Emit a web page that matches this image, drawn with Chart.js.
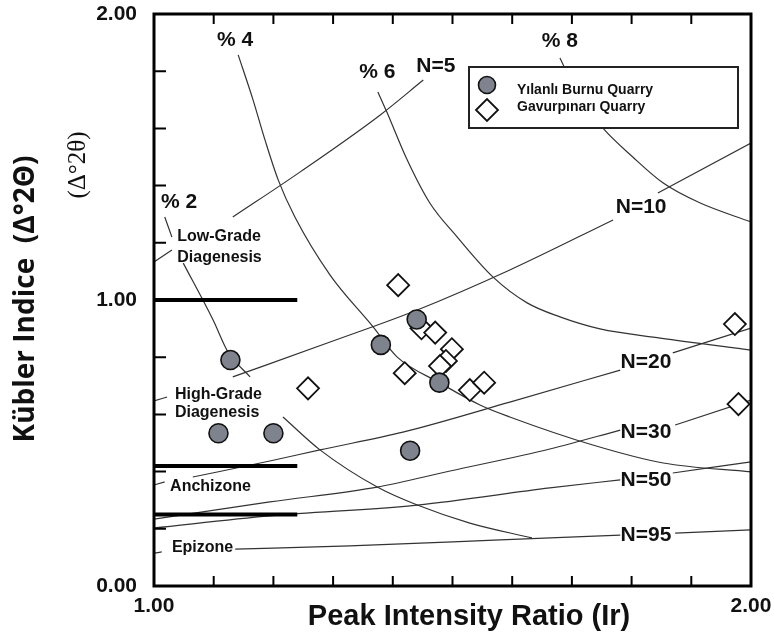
<!DOCTYPE html>
<html>
<head>
<meta charset="utf-8">
<title>Kübler Indice - Peak Intensity Ratio</title>
<script src="https://cdn.jsdelivr.net/npm/chart.js@4.4.1/dist/chart.umd.min.js"></script>
<style>
    html, body { margin: 0; padding: 0; background: #fff; }
</style>
</head>
<body>
<canvas id="kublerChart" width="774" height="638"></canvas>
<script>
// samples
const yilanliIr = [1.128, 1.108, 1.200, 1.380, 1.440, 1.478, 1.429];
const yilanliKi = [0.790, 0.534, 0.534, 0.843, 0.932, 0.711, 0.473];
const gavurIr = [1.258, 1.409, 1.448, 1.471, 1.499, 1.489, 1.479, 1.420, 1.529, 1.553, 1.973, 1.979];
const gavurKi = [0.691, 1.052, 0.901, 0.886, 0.828, 0.787, 0.769, 0.744, 0.685, 0.711, 0.916, 0.636];

// N (layer count) curves, null = break under a label
const n5Ir = [1.000, 1.030, 1.080, 1.132, 1.245, 1.379, 1.451];
const n5Ki = [1.133, 1.175, null, 1.290, 1.448, 1.647, 1.769];
const n10Ir = [1.000, 1.022, 1.080, 1.132, 1.295, 1.441, 1.596, 1.769, 1.800, 1.844, 2.000];
const n10Ki = [0.647, 0.661, null, 0.731, 0.853, 0.965, 1.105, 1.280, null, 1.374, 1.549];
const n20Ir = [1.000, 1.018, 1.040, 1.065, 1.194, 1.278, 1.417, 1.596, 1.781, 1.830, 1.869, 2.000];
const n20Ki = [0.353, 0.364, null, 0.381, 0.437, 0.476, 0.538, 0.643, 0.755, null, 0.815, 0.902];
const n30Ir = [1.000, 1.194, 1.374, 1.496, 1.663, 1.781, 1.830, 1.873, 2.000];
const n30Ki = [0.234, 0.294, 0.346, 0.402, 0.479, 0.545, null, 0.563, 0.650];
const n50Ir = [1.000, 1.194, 1.441, 1.663, 1.781, 1.830, 1.869, 2.000];
const n50Ki = [0.203, 0.245, 0.283, 0.343, 0.371, null, 0.395, 0.434];
const n95Ir = [1.000, 1.013, 1.070, 1.136, 1.328, 1.580, 1.781, 1.830, 1.873, 2.000];
const n95Ki = [0.115, 0.119, null, 0.129, 0.140, 0.161, 0.178, null, 0.185, 0.196];

// % strain curves
const p2Ir = [1.018, 1.030, 1.040, 1.049, 1.099, 1.124, 1.161, 1.190, 1.216, 1.278, 1.374, 1.441, 1.529, 1.633];
const p2Ki = [1.290, 1.220, null, 1.129, 0.930, 0.818, 0.731, null, 0.591, 0.476, 0.346, 0.283, 0.220, 0.168];
const p4Ir = [1.141, 1.166, 1.186, 1.208, 1.236, 1.295, 1.367, 1.407, 1.479, 1.546, 1.596, 1.735, 1.853, 2.000];
const p4Ki = [1.857, 1.699, 1.559, 1.420, 1.290, 1.087, 0.906, 0.801, 0.710, 0.633, 0.591, 0.493, 0.430, 0.399];
const p6Ir = [1.375, 1.390, 1.424, 1.462, 1.508, 1.568, 1.625, 1.680, 1.747, 1.848, 2.000];
const p6Ki = [1.727, 1.657, 1.490, 1.339, 1.220, 1.080, 0.990, 0.941, 0.899, 0.867, 0.825];
const p8Ir = [1.680, 1.710, 1.752, 1.802, 1.853, 1.915, 2.000];
const p8Ki = [1.846, 1.717, 1.601, 1.500, 1.409, 1.339, 1.273];

// zone boundaries
const zoneLimits = [1.00, 0.42, 0.25];
const zoneEndIr = 1.24;

const curveLabels = [
    { text: "% 4", x: 1.136, y: 1.909 },
    { text: "% 6", x: 1.374, y: 1.797 },
    { text: "N=5", x: 1.472, y: 1.818 },
    { text: "% 8", x: 1.680, y: 1.906 },
    { text: "% 2", x: 1.042, y: 1.343 },
    { text: "N=10", x: 1.816, y: 1.325 },
    { text: "N=20", x: 1.824, y: 0.783 },
    { text: "N=30", x: 1.824, y: 0.538 },
    { text: "N=50", x: 1.824, y: 0.371 },
    { text: "N=95", x: 1.824, y: 0.178 },
];
const zoneLabels = [
    { text: "Low-Grade", x: 1.039, y: 1.220 },
    { text: "Diagenesis", x: 1.039, y: 1.150 },
    { text: "High-Grade", x: 1.035, y: 0.671 },
    { text: "Diagenesis", x: 1.035, y: 0.605 },
    { text: "Anchizone", x: 1.027, y: 0.346 },
    { text: "Epizone", x: 1.030, y: 0.133 },
];

const SANS = '"Liberation Sans", Arial, Helvetica, sans-serif';

function toPoints(xs, ys) {
    return xs.map((x, i) => ({ x: x, y: ys[i] }));
}

function curve(xs, ys) {
    return {
        data: toPoints(xs, ys),
        showLine: true,
        borderColor: "#333",
        borderWidth: 1.2,
        pointRadius: 0,
        cubicInterpolationMode: "monotone",
        spanGaps: false,
    };
}

const datasets = [
    {
        label: "Yılanlı Burnu Quarry",
        data: toPoints(yilanliIr, yilanliKi),
        pointStyle: "circle",
        pointRadius: 9.5,
        pointBackgroundColor: "#7e838e",
        pointBorderColor: "#111",
        pointBorderWidth: 1.6,
    },
    {
        label: "Gavurpınarı Quarry",
        data: toPoints(gavurIr, gavurKi),
        pointStyle: "rectRot",
        pointRadius: 11,
        pointBackgroundColor: "#fff",
        pointBorderColor: "#111",
        pointBorderWidth: 1.8,
    },
];

zoneLimits.forEach((ki) => {
    datasets.push({
        data: [{ x: 1.0, y: ki }, { x: zoneEndIr, y: ki }],
        showLine: true,
        borderColor: "#000",
        borderWidth: 4,
        pointRadius: 0,
    });
});

[
    [n5Ir, n5Ki], [n10Ir, n10Ki], [n20Ir, n20Ki], [n30Ir, n30Ki], [n50Ir, n50Ki], [n95Ir, n95Ki],
    [p2Ir, p2Ki], [p4Ir, p4Ki], [p6Ir, p6Ki], [p8Ir, p8Ki],
].forEach((c) => datasets.push(curve(c[0], c[1])));

function wholeLabel(v) {
    return Math.abs(v - Math.round(v)) < 1e-6 ? v.toFixed(2) : "";
}

// frame, inward ticks, text annotations, legend and axis titles
const decorations = {
    id: "decorations",
    afterDraw(chart) {
        const ctx = chart.ctx;
        const area = chart.chartArea;
        const xs = chart.scales.x;
        const ys = chart.scales.y;

        ctx.save();
        ctx.fillStyle = "#111";
        ctx.textBaseline = "middle";

        ctx.font = "bold 21px " + SANS;
        ctx.textAlign = "center";
        curveLabels.forEach((l) => {
            ctx.fillText(l.text, xs.getPixelForValue(l.x), ys.getPixelForValue(l.y));
        });

        ctx.font = "bold 16px " + SANS;
        ctx.textAlign = "left";
        zoneLabels.forEach((l) => {
            ctx.fillText(l.text, xs.getPixelForValue(l.x), ys.getPixelForValue(l.y));
        });

        // ticks
        ctx.strokeStyle = "#000";
        ctx.lineWidth = 2;
        ctx.beginPath();
        ys.ticks.forEach((t) => {
            const py = ys.getPixelForValue(t.value);
            ctx.moveTo(area.left, py);
            ctx.lineTo(area.left + 12, py);
        });
        xs.ticks.forEach((t) => {
            const px = xs.getPixelForValue(t.value);
            ctx.moveTo(px, area.bottom);
            ctx.lineTo(px, area.bottom - 10);
            ctx.moveTo(px, area.top);
            ctx.lineTo(px, area.top + 10);
        });
        ctx.stroke();

        ctx.lineWidth = 3;
        ctx.strokeRect(area.left, area.top, area.right - area.left, area.bottom - area.top);

        // legend
        const lx = area.left + 315;
        const ly = area.top + 53;
        ctx.fillStyle = "#fff";
        ctx.fillRect(lx, ly, 269, 61);
        ctx.lineWidth = 2;
        ctx.strokeStyle = "#222";
        ctx.strokeRect(lx, ly, 269, 61);
        datasets.slice(0, 2).forEach((ds, i) => {
            const cy = ly + 18 + i * 25;
            ctx.fillStyle = ds.pointBackgroundColor;
            ctx.strokeStyle = ds.pointBorderColor;
            ctx.lineWidth = ds.pointBorderWidth;
            Chart.helpers.drawPoint(ctx, { pointStyle: ds.pointStyle, radius: i === 0 ? 8.5 : 11, rotation: 0, borderWidth: ds.pointBorderWidth }, lx + 18, cy);
            ctx.fillStyle = "#111";
            ctx.font = "bold 14px " + SANS;
            ctx.textAlign = "left";
            ctx.fillText(ds.label, lx + 48, ly + 23 + i * 17);
        });

        // axis titles
        ctx.fillStyle = "#111";
        ctx.textAlign = "center";
        ctx.font = "bold 29px " + SANS;
        ctx.textBaseline = "alphabetic";
        ctx.fillText("Peak Intensity Ratio (Ir)", 469, 625);

        ctx.save();
        ctx.translate(26, 299);
        ctx.rotate(-Math.PI / 2);
        ctx.textBaseline = "middle";
        ctx.font = 'bold 28px "Open Sans", sans-serif';
        ctx.fillText("Kübler Indice  (Δ°2Θ)", 0, 0);
        ctx.restore();

        ctx.save();
        ctx.translate(78, 165);
        ctx.rotate(-Math.PI / 2);
        ctx.textBaseline = "middle";
        ctx.font = '25px "Liberation Serif", "Times New Roman", serif';
        ctx.fillText("(Δ°2θ)", 0, 0);
        ctx.restore();

        ctx.restore();
    },
};

new Chart(document.getElementById("kublerChart").getContext("2d"), {
    type: "scatter",
    data: { datasets: datasets },
    options: {
        responsive: false,
        animation: false,
        devicePixelRatio: 1,
        layout: { padding: { left: 0, top: 14, right: 23, bottom: 0 } },
        plugins: { legend: { display: false }, tooltip: { enabled: false } },
        scales: {
            x: {
                type: "linear",
                min: 1,
                max: 2,
                afterFit: (s) => {
                    s.height = 52;
                    s.paddingLeft = 0;
                    s.paddingRight = 0;
                },
                grid: { display: false, drawTicks: false },
                border: { display: false },
                ticks: {
                    stepSize: 0.1,
                    autoSkip: false,
                    maxRotation: 0,
                    padding: 8,
                    color: "#111",
                    font: { family: SANS, size: 21, weight: "bold" },
                    callback: wholeLabel,
                },
            },
            y: {
                type: "linear",
                min: 0,
                max: 2,
                afterFit: (s) => {
                    s.width = 154;
                    s.paddingTop = 0;
                    s.paddingBottom = 0;
                },
                grid: { display: false, drawTicks: false },
                border: { display: false },
                ticks: {
                    stepSize: 0.2,
                    autoSkip: false,
                    padding: 17,
                    color: "#111",
                    font: { family: SANS, size: 21, weight: "bold" },
                    callback: wholeLabel,
                },
            },
        },
    },
    plugins: [decorations],
});
</script>
</body>
</html>
